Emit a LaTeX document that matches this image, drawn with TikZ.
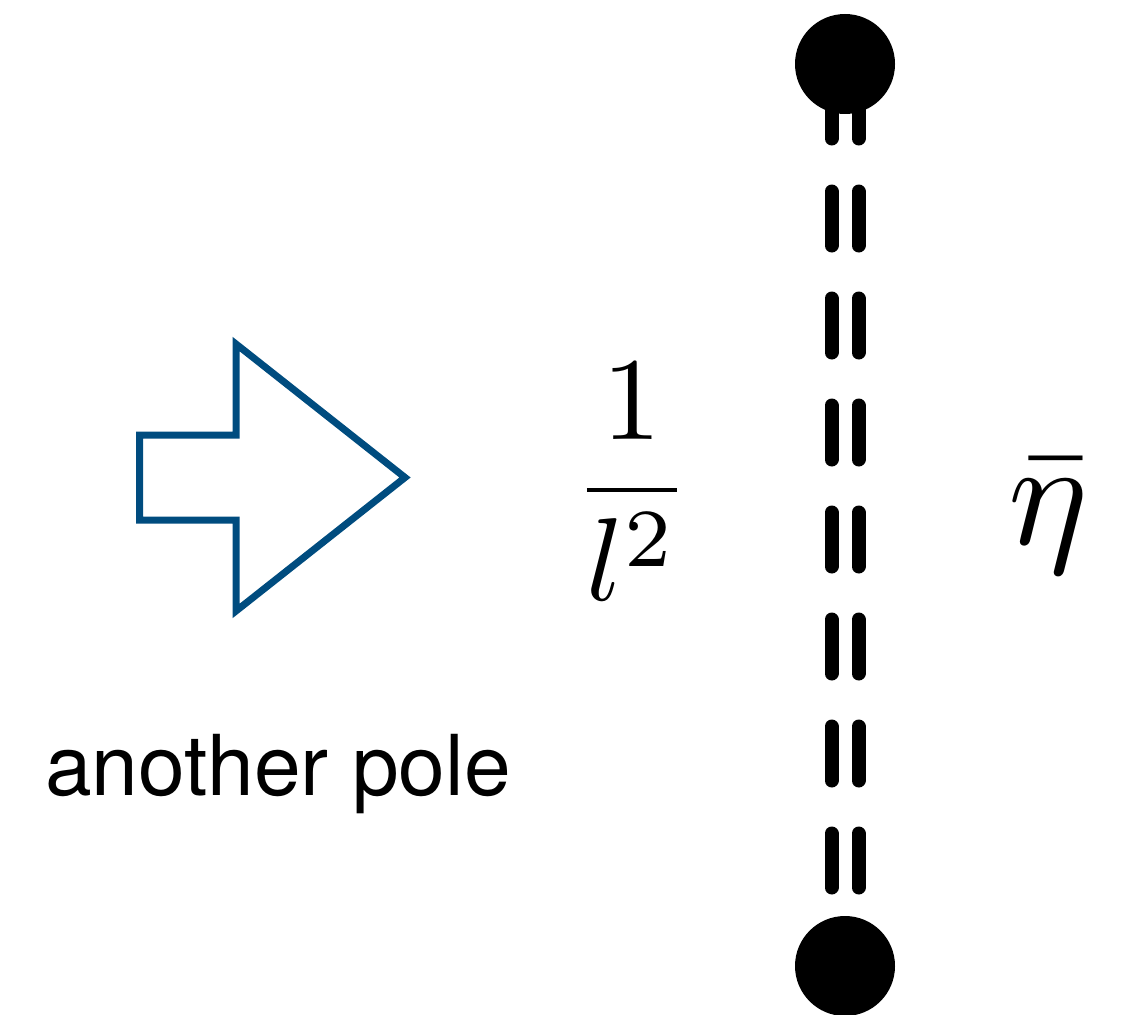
\documentclass[tikz,border=0pt]{standalone}
\usepackage{fontspec}
\newfontfamily\polefont{TeX Gyre Heros}
\usetikzlibrary{backgrounds}
\definecolor{PoleBlue}{HTML}{004C7F}
\tikzset{
  pole/.style={circle, fill=black, minimum size=100pt, inner sep=0pt},
  rail/.style={line width=14pt, line cap=round, dash pattern=on 54pt off 53pt, dash phase=86.5pt},
  bigarrow/.style={draw=PoleBlue, line width=7pt, line join=miter},
  mathlabel/.style={scale=11.8, transform shape, inner sep=0pt},
  caption/.style={font=\polefont\fontsize{84}{100}\selectfont, inner sep=0pt},
}
\begin{document}
\begin{tikzpicture}[x=1pt,y=-1pt]
  \useasboundingbox (0,0) rectangle (1121,1014);
  % the pole and its double dashed line
  \node[pole] (top) at (845,64) {};
  \node[pole] (bottom) at (845,966) {};
  \begin{scope}[on background layer]
    \draw[rail] ([xshift=-13.5pt]top.center) -- ([xshift=-13.5pt]bottom.center);
    \draw[rail] ([xshift=13.5pt]top.center) -- ([xshift=13.5pt]bottom.center);
  \end{scope}
  % labels
  \node[mathlabel] (frac) at (632,482) {$\displaystyle\frac{1}{l^2}$};
  \node[mathlabel, scale=15/11.8] (eta) at (1048,516) {$\bar{\eta}$};
  % block arrow
  \draw[bigarrow] (139.5,435) -- (236,435) -- (236,344) -- (405,477.5)
    -- (236,611) -- (236,520) -- (139.5,520) -- cycle;
  \node[caption, anchor=base west] (another) at (45,795) {another pole};
\end{tikzpicture}
\end{document}
